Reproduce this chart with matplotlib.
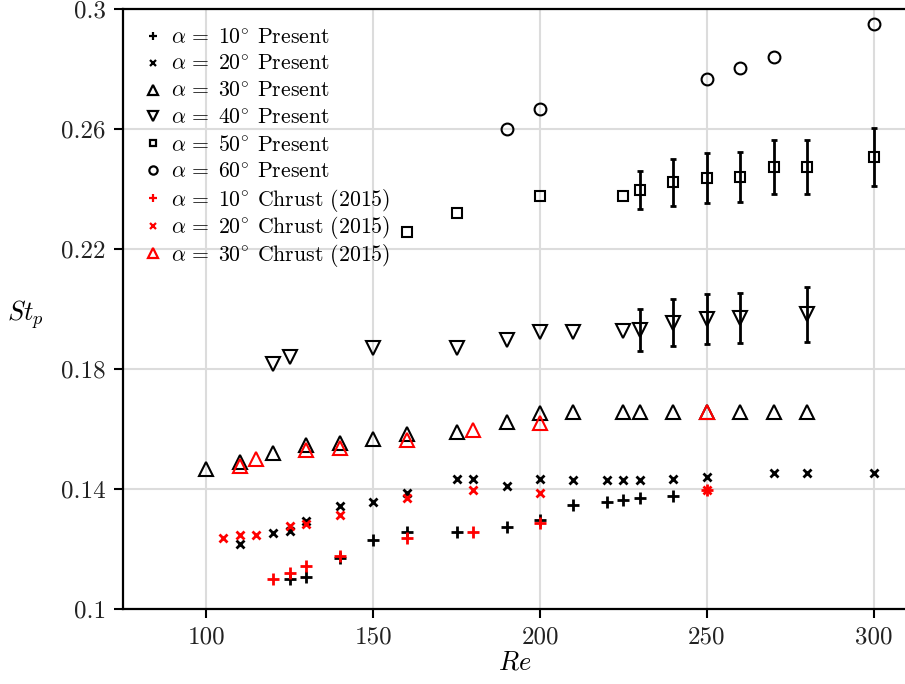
import numpy as np
import matplotlib
matplotlib.use('Agg')
import matplotlib.pyplot as plt

plt.rcParams['font.family'] = 'serif'
plt.rcParams['font.serif'] = ['cmr10', 'DejaVu Serif']
plt.rcParams['mathtext.fontset'] = 'cm'
plt.rcParams['axes.formatter.use_mathtext'] = True

# alpha = 10 deg, present
re10 = [125, 130, 140, 150, 160, 175, 190, 200, 210, 220, 225, 230, 240]
st10 = [0.1100, 0.1106, 0.1169, 0.1230, 0.1256, 0.1258, 0.1274, 0.1297,
        0.1347, 0.1358, 0.1363, 0.1369, 0.1378]

# alpha = 20 deg, present
re20 = [110, 120, 125, 130, 140, 150, 160, 175, 180, 190, 200, 210, 220,
        225, 230, 240, 250, 270, 280, 300]
st20 = [0.1216, 0.1254, 0.1260, 0.1293, 0.1343, 0.1358, 0.1386, 0.1432,
        0.1432, 0.1410, 0.1433, 0.1430, 0.1430, 0.1430, 0.1430, 0.1433,
        0.1441, 0.1452, 0.1452, 0.1452]

# alpha = 30 deg, present
re30 = [100, 110, 120, 130, 140, 150, 160, 175, 190, 200, 210, 225, 230,
        240, 250, 260, 270, 280]
st30 = [0.1466, 0.1491, 0.1521, 0.1547, 0.1554, 0.1567, 0.1582, 0.1591,
        0.1624, 0.1652, 0.1656, 0.1656, 0.1656, 0.1656, 0.1656, 0.1656,
        0.1656, 0.1656]

# alpha = 40 deg, present (error bars on the last ones)
re40 = [120, 125, 150, 175, 190, 200, 210, 225, 230, 240, 250, 260, 280]
st40 = [0.1816, 0.1839, 0.1869, 0.1871, 0.1897, 0.1924, 0.1924, 0.1927,
        0.1930, 0.1954, 0.1966, 0.1971, 0.1982]
err40 = [np.nan] * 8 + [0.0069, 0.0078, 0.0084, 0.0084, 0.0091]

# alpha = 50 deg, present
re50 = [160, 175, 200, 225, 230, 240, 250, 260, 270, 280, 300]
st50 = [0.2256, 0.2321, 0.2377, 0.2377, 0.2397, 0.2422, 0.2436, 0.2441,
        0.2474, 0.2474, 0.2506]
err50 = [np.nan] * 4 + [0.0064, 0.0078, 0.0083, 0.0083, 0.0091, 0.0091, 0.0096]

# alpha = 60 deg, present
re60 = [190, 200, 250, 260, 270, 300]
st60 = [0.2599, 0.2666, 0.2767, 0.2804, 0.2841, 0.2949]

# Chrust (2015)
re10c = [120, 125, 130, 140, 160, 180, 200, 250]
st10c = [0.1099, 0.1121, 0.1143, 0.1177, 0.1238, 0.1258, 0.1286, 0.1397]
re20c = [105, 110, 115, 125, 130, 140, 160, 180, 200, 250]
st20c = [0.1237, 0.1247, 0.1247, 0.1277, 0.1282, 0.1313, 0.1369, 0.1397,
         0.1386, 0.1397]
re30c = [110, 115, 130, 140, 160, 180, 200, 250]
st30c = [0.1478, 0.1499, 0.1530, 0.1538, 0.1563, 0.1597, 0.1621, 0.1656]

xticks = [100, 150, 200, 250, 300]
yticks = [0.1, 0.14, 0.18, 0.22, 0.26, 0.3]
ytick_labels = ['0.1', '0.14', '0.18', '0.22', '0.26', '0.3']

fig = plt.figure(figsize=(9.05, 6.84), dpi=100)
ax = fig.add_axes([123 / 905, 75 / 684, 784 / 905, 600 / 684])

# error bars first
for re, st, err in [(re40, st40, err40), (re50, st50, err50)]:
    re = np.array(re); st = np.array(st); err = np.array(err)
    m = ~np.isnan(err)
    ax.errorbar(re[m], st[m], yerr=err[m], fmt='none', ecolor='k',
                elinewidth=2, capsize=2.5, capthick=2, zorder=2)

kw = dict(linestyle='none', zorder=3)
lab = r'$\alpha\,=\;%d^{\circ}$ %s'
h = []
h += ax.plot(re10, st10, marker='+', color='k', ms=8, mew=2,
             label=lab % (10, 'Present'), **kw)
h += ax.plot(re20, st20, marker='x', color='k', ms=6, mew=2,
             label=lab % (20, 'Present'), **kw)
h += ax.plot(re30, st30, marker='^', color='k', mfc='none', ms=9.5, mew=1.5,
             label=lab % (30, 'Present'), **kw)
h += ax.plot(re40, st40, marker='v', color='k', mfc='none', ms=9.5, mew=1.5,
             label=lab % (40, 'Present'), **kw)
h += ax.plot(re50, st50, marker='s', color='k', mfc='none', ms=6.5, mew=1.5,
             label=lab % (50, 'Present'), **kw)
h += ax.plot(re60, st60, marker='o', color='k', mfc='none', ms=8.5, mew=1.5,
             label=lab % (60, 'Present'), **kw)
h += ax.plot(re10c, st10c, marker='+', color='red', ms=8, mew=2,
             label=lab % (10, 'Chrust (2015)'), **kw)
h += ax.plot(re20c, st20c, marker='x', color='red', ms=6, mew=2,
             label=lab % (20, 'Chrust (2015)'), **kw)
h += ax.plot(re30c, st30c, marker='^', color='red', mfc='none', ms=9.5, mew=1.5,
             label=lab % (30, 'Chrust (2015)'), **kw)

ax.set_xlim(75, 310)
ax.set_ylim(0.1, 0.3)
ax.set_xticks(xticks)
ax.set_xticklabels([str(t) for t in xticks])
ax.set_yticks(yticks)
ax.set_yticklabels(ytick_labels)
ax.grid(True, color='#dcdcdc', linewidth=1.5, zorder=0)
ax.set_axisbelow(True)
for s in ax.spines.values():
    s.set_linewidth(1.6)
ax.tick_params(direction='out', length=6.5, width=1.5, labelsize=18,
               labelcolor='#222222', pad=6)

ax.set_xlabel(r'$Re$', fontsize=19, labelpad=2)
ax.set_ylabel(r'$St_p$', fontsize=19, rotation=0, va='center', ha='center')
ax.yaxis.set_label_coords(-0.125, 0.49)

# two legends so that the row spacing stays even
legkw = dict(loc='upper left', frameon=False, fontsize=15.7, markerscale=0.7,
             handlelength=0.6, handletextpad=0.5, borderaxespad=0.0,
             borderpad=0.0)
leg1 = ax.legend(handles=h[:6], labelspacing=0.33,
                 bbox_to_anchor=(0.03, 0.968), **legkw)
ax.add_artist(leg1)
leg2 = ax.legend(handles=h[6:], labelspacing=0.02,
                 bbox_to_anchor=(0.03, 0.7033), **legkw)
for leg in (leg1, leg2):
    for hh in leg.legend_handles:
        hh.set_markeredgewidth(1.6)

fig.savefig('out.png', dpi=100)
